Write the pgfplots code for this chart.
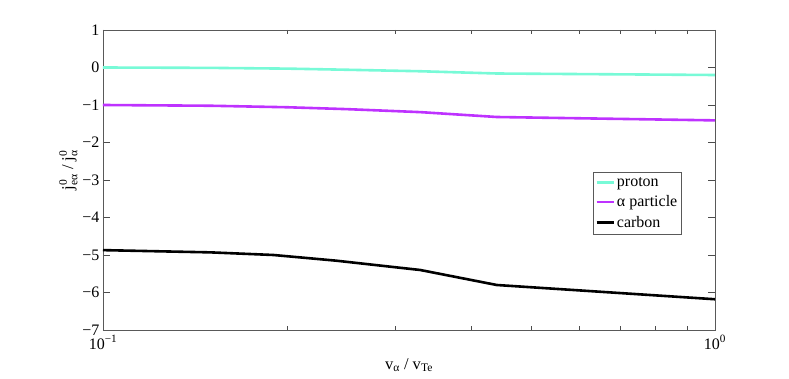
\documentclass[border=0pt]{standalone}
\usepackage{pgfplots}
\pgfplotsset{compat=1.18}
\usepackage{amsmath}
\usepackage{fontspec}
\setmainfont{Liberation Serif}
\definecolor{protoncol}{RGB}{120,250,215}
\definecolor{alphacol}{RGB}{190,50,255}
\begin{document}
\begin{tikzpicture}
  \begin{axis}[
      scale only axis,
      width=612pt, height=300pt,
      at={(0pt,0pt)}, anchor=south west,
      xmode=log,
      xmin=0.1, xmax=1,
      ymin=-7, ymax=1,
      xtick={0.1,1},
      xticklabels={10$^{\text{−1}}$,10$^{\text{0}}$},
      ytick={-7,-6,...,1},
      yticklabels={−7,−6,−5,−4,−3,−2,−1,0,1},
      tick align=inside,
      major tick length=7pt,
      minor tick length=4pt,
      tick style={black!70, line width=0.5pt},
      axis line style={black!65, line width=0.7pt},
      ticklabel style={font=\rmfamily\fontsize{16}{19}\selectfont},
      xticklabel style={yshift=-2pt},
      label style={font=\rmfamily\fontsize{16.5}{19}\selectfont},
      xlabel style={yshift=-2pt},
      ylabel style={yshift=-2pt, xshift=10pt},
      xlabel={v$_{\text{α}}$ / v$_{\text{Te}}$},
      ylabel={j$^{\text{0}}_{\text{eα}}$ / j$^{\text{0}}_{\text{α}}$},
      legend style={
          at={(axis description cs:0.801,0.527)},
          anchor=north west,
          draw=black!65, line width=0.5pt,
          font=\rmfamily\fontsize{16}{19}\selectfont,
          inner xsep=2pt, inner ysep=3pt,
          row sep=4pt,
          cells={anchor=west},
        },
      legend image code/.code={
          \draw[#1, line width=2.5pt] (0pt,0pt) -- (17pt,0pt);
        },
    ]
    % proton
    \addplot[protoncol, line width=2.6pt] coordinates {
        (0.1,0) (0.15,-0.01) (0.2,-0.03) (0.25,-0.06) (0.33,-0.1) (0.44,-0.16) (1,-0.2)
      };
    \addlegendentry{proton}
    % alpha particle
    \addplot[alphacol, line width=2.6pt] coordinates {
        (0.1,-1) (0.15,-1.02) (0.2,-1.06) (0.25,-1.11) (0.33,-1.19) (0.44,-1.32) (1,-1.41)
      };
    \addlegendentry{α particle}
    % carbon
    \addplot[black, line width=2.6pt] coordinates {
        (0.1,-4.87) (0.15,-4.93) (0.19,-5.0) (0.24,-5.15) (0.33,-5.4) (0.44,-5.8) (1,-6.18)
      };
    \addlegendentry{carbon}
  \end{axis}
  \useasboundingbox (-103pt,-48pt) rectangle (686pt,330pt);
\end{tikzpicture}
\end{document}
